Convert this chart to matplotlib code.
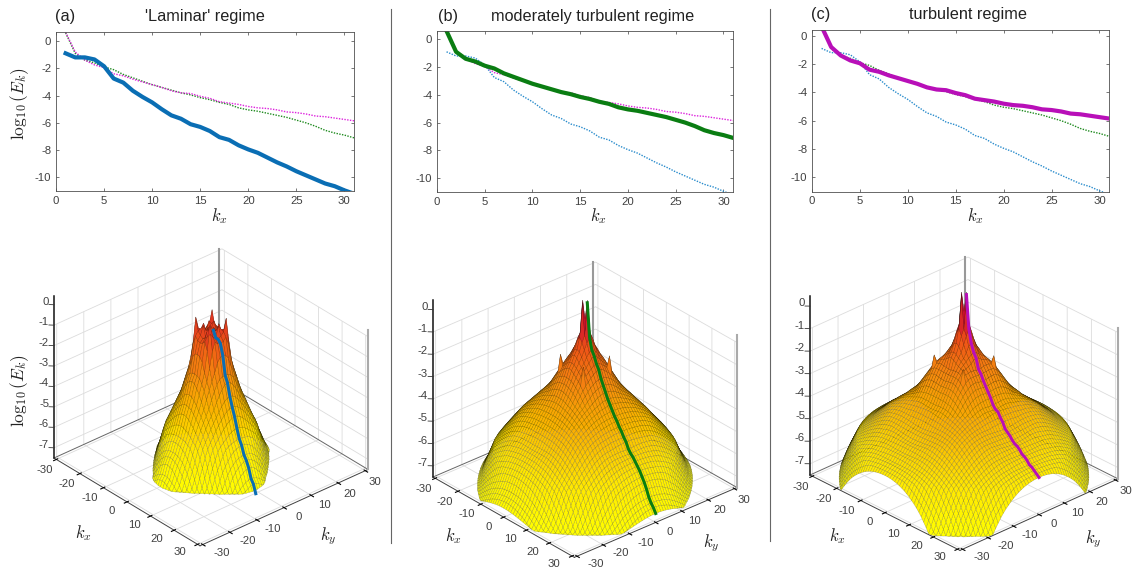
import matplotlib
matplotlib.use('Agg')
import matplotlib.pyplot as plt
import numpy as np
from matplotlib.colors import LinearSegmentedColormap
from matplotlib.lines import Line2D
from mpl_toolkits.mplot3d import proj3d
from mpl_toolkits.mplot3d.art3d import Poly3DCollection

W, H = 1135, 568
plt.rcParams['font.family'] = ['Liberation Sans', 'DejaVu Sans']
plt.rcParams['mathtext.fontset'] = 'cm'
plt.rcParams['axes.unicode_minus'] = False
TXT = '#404040'
DARK = '#222222'

# spectra, k = 1..31
k = list(range(1, 32))
laminar = [-0.9, -1.2, -1.2, -1.35, -1.85, -2.75, -3.05, -3.65, -4.1, -4.5, -5.0, -5.45, -5.7, -6.1, -6.3, -6.6,
           -7.05, -7.25, -7.65, -7.95, -8.2, -8.55, -8.9, -9.2, -9.55, -9.85, -10.15, -10.45, -10.65, -10.95, -11.2]
moderate = [0.6, -0.9, -1.4, -1.6, -1.9, -2.1, -2.45, -2.7, -2.95, -3.2, -3.4, -3.6, -3.8, -3.95, -4.15, -4.3,
            -4.5, -4.65, -4.9, -5.05, -5.15, -5.3, -5.45, -5.6, -5.8, -6.0, -6.25, -6.55, -6.75, -6.9, -7.1]
turbulent = [0.65, -0.8, -1.4, -1.75, -1.95, -2.4, -2.55, -2.8, -3.0, -3.2, -3.4, -3.65, -3.8, -3.85, -4.05, -4.2,
             -4.45, -4.55, -4.65, -4.8, -4.9, -4.95, -5.05, -5.2, -5.25, -5.35, -5.5, -5.55, -5.65, -5.75, -5.85]

diag_r_a = [0, 1.4, 3, 4.5, 5.9, 8.6, 13, 15.8, 17, 45]
diag_z_a = [-1.1, -1.0, -0.9, -0.9, -2.6, -4.1, -5.7, -7.4, -8, -14]
diag_r_b = [0, 1.4, 4, 7, 10.7, 19, 26.4, 30, 33, 45]
diag_z_b = [-0.6, -0.8, -1.8, -2.4, -3.3, -4.47, -5.94, -7.3, -8, -11]
diag_r_c = [0, 1.4, 4, 8.5, 14, 21.4, 30.7, 34, 36, 45]
diag_z_c = [-0.6, -0.8, -1.9, -2.5, -3.7, -4.44, -5.8, -6.9, -7.7, -10]

# small peaks on the surfaces, (|kx|, |ky|, height)
peaks_a = [(3, 3, -0.35), (1, 2, -0.7), (2, 1, -0.7)]
peaks_b = [(5, 5, -1.8)]
peaks_c = [(6, 6, -2.1)]

tick_vals = [-30, -20, -10, 0, 10, 20, 30]
z_ticks = [-7, -6, -5, -4, -3, -2, -1]

titles = ["'Laminar' regime", 'moderately turbulent regime', 'turbulent regime']
tags = ['(a)', '(b)', '(c)']
curves = [laminar, moderate, turbulent]
line_colors = ['#0a6eb4', '#0a7d12', '#b80fb8']
dot_colors = ['#2a8ccc', '#1e8a1e', '#dd22dd']

# colours by height, yellow at the floor to crimson at the top
surf_cmap = LinearSegmentedColormap.from_list('surf', [
    (0.0, '#ffff00'), (0.22, '#ffe800'), (0.42, '#fab400'), (0.62, '#f58410'),
    (0.78, '#ee5218'), (0.88, '#d82428'), (1.0, '#c00030')])


def surface(axis_z, diag_r, diag_z, peaks, r_axis, r_diag):
    n = np.arange(-31, 32)
    X, Y = np.meshgrid(n.astype(float), n.astype(float), indexing='ij')
    rr = np.linspace(0, 45, 901)
    ax_prof = np.interp(rr, [0] + k + [45], [axis_z[0] - 0.8] + axis_z + [axis_z[-1] - 3])
    di_prof = np.interp(rr, diag_r, diag_z)
    Z = np.zeros_like(X)
    inside = np.zeros_like(X, dtype=bool)
    for i in range(X.shape[0]):
        for j in range(X.shape[1]):
            r = np.hypot(X[i, j], Y[i, j])
            th = np.arctan2(Y[i, j], X[i, j])
            w = np.sin(2 * th) ** 2
            prof = (1 - w) * ax_prof + w * di_prof
            below = np.nonzero(prof <= -7.5)[0]
            r_floor = rr[below[0]] if len(below) else 45
            r_lim = min(r_floor, r_axis + (r_diag - r_axis) * w)
            inside[i, j] = r <= r_lim
            if r > r_lim:
                X[i, j] *= r_lim / r
                Y[i, j] *= r_lim / r
                r = r_lim
            Z[i, j] = np.interp(r, rr, prof)
    for px, py, pz in peaks:
        for sx in (-1, 1):
            for sy in (-1, 1):
                Z[31 + sx * px, 31 + sy * py] = pz
    return X, Y, Z, inside


def draw_surface(ax, X, Y, Z, inside, azim, elev):
    polys = []
    cols = []
    v = np.array([np.cos(np.radians(elev)) * np.cos(np.radians(azim)),
                  np.cos(np.radians(elev)) * np.sin(np.radians(azim)), np.sin(np.radians(elev))])
    for i in range(X.shape[0] - 1):
        for j in range(X.shape[1] - 1):
            idx = [(i, j), (i + 1, j), (i + 1, j + 1), (i, j + 1)]
            if not any(inside[p] for p in idx):
                continue
            q = np.array([[X[p], Y[p], Z[p]] for p in idx])
            polys.append(q)
            n = np.cross((q[2] - q[0]) * [1, 1, 7], (q[3] - q[1]) * [1, 1, 7])
            n = n / (np.linalg.norm(n) + 1e-9)
            light = 0.86 + 0.14 * min(1, abs(n @ v) * 1.6)
            c = np.array(surf_cmap((q[:, 2].mean() + 7.5) / 8.0)[:3]) * light
            cols.append(c)
    pc = Poly3DCollection(polys, facecolors=cols, edgecolors=(0, 0, 0, 0.28), linewidths=0.3, zorder=3)
    ax.add_collection3d(pc)


def corner_px(ax, x, y, z=-7.5):
    xp, yp, _ = proj3d.proj_transform(x, y, z, ax.get_proj())
    return ax.transData.transform((xp, yp))


def fit_box(ax, left_px, right_px):
    # rescale the axes so the floor corners land on the wanted pixels
    for _ in range(3):
        ax.apply_aspect()
        a = corner_px(ax, -31, -31)
        b = corner_px(ax, 31, 31)
        f = (right_px[0] - left_px[0]) / (b[0] - a[0])
        pos = ax.get_position()
        x0, y0, w0, h0 = pos.x0 * W, pos.y0 * H, pos.width * W, pos.height * H
        cx, cy = x0 + w0 / 2, y0 + h0 / 2
        dx, dy = (a[0] - cx) * f, (a[1] - cy) * f
        ncx = left_px[0] - dx
        ncy = (H - left_px[1]) - dy
        s = w0 * f
        ax.set_position([(ncx - s / 2) / W, (ncy - s / 2) / H, s / W, s / H])


def px_text(fig, x, y, s, **kw):
    # x, y in picture pixels from the top left
    fig.text(x / W, 1 - y / H, s, ha=kw.pop('ha', 'center'), va=kw.pop('va', 'center'), **kw)


fig = plt.figure(figsize=(W / 100, H / 100), dpi=100)

# top row
top_boxes = [(56, 354, 31.5, 191), (437, 733, 31, 192), (812, 1109, 30, 191.5)]
top_ylim = [(-11, 0.7), (-11, 0.6), (-11, 0.4)]
top_kx = [(219, 216), (598, 216), (975, 216)]
for i, (x0, x1, y0, y1) in enumerate(top_boxes):
    ax = fig.add_axes([x0 / W, 1 - y1 / H, (x1 - x0) / W, (y1 - y0) / H])
    for j, c in enumerate(curves):
        if j != i:
            ax.plot(k, c, ':', color=dot_colors[j], lw=1.0, dashes=(1, 1))
    ax.plot(k, curves[i], '-', color=line_colors[i], lw=3.0)
    ax.set_xlim(0, 31)
    ax.set_ylim(*top_ylim[i])
    ax.set_xticks(range(0, 31, 5))
    ax.set_yticks(range(-10, 1, 2))
    ax.tick_params(direction='in', length=2.5, width=0.5, labelsize=8.2, colors=TXT, pad=3.5, top=True, right=True)
    for s in ax.spines.values():
        s.set_linewidth(0.6)
        s.set_color('#505050')
    px_text(fig, top_kx[i][0], top_kx[i][1], r'$k_x$', fontsize=12, color=DARK)

tag_pos = [(65, 16), (448, 16), (821, 15)]
title_pos = [(205, 16), (593, 16), (968, 15)]
for i in range(3):
    px_text(fig, tag_pos[i][0], tag_pos[i][1], tags[i], fontsize=11.7, color=DARK)
    px_text(fig, title_pos[i][0], title_pos[i][1], titles[i], fontsize=11.7, color=DARK)
px_text(fig, 20, 104, r'$\log_{10}(E_k)$', fontsize=12.5, rotation=90, color=DARK)
px_text(fig, 20, 391, r'$\log_{10}(E_k)$', fontsize=12.5, rotation=90, color=DARK)

# bottom row
views = [(-41, 31.5), (-41, 29.6), (-43.5, 28.5)]
z_aspect = [43.4, 48.0, 47.4]
floor_left = [(54, 458), (433, 477), (810, 475)]
floor_right = [(368, 468), (737, 487), (1118, 478)]
edge_top = [-0.7, -0.67, -0.82]
surf_args = [(laminar, diag_r_a, diag_z_a, peaks_a, 31, 31), (moderate, diag_r_b, diag_z_b, peaks_b, 31, 33),
             (turbulent, diag_r_c, diag_z_c, peaks_c, 31, 38)]
kx_pos = [(83, 533), (453, 536), (837, 536)]
ky_pos = [(328, 536), (711, 543), (1093, 539)]

for i in range(3):
    ax = fig.add_axes([0.1, 0.1, 0.4, 0.8], projection='3d', proj_type='ortho')
    ax.computed_zorder = False
    ax.set_facecolor('none')
    ax.set_xlim(-31, 31)
    ax.set_ylim(-31, 31)
    ax.set_zlim(-7.5, -1)
    ax.set_box_aspect((62, 62, z_aspect[i]), zoom=1.0)
    ax.view_init(elev=views[i][1], azim=views[i][0])
    fit_box(ax, floor_left[i], floor_right[i])

    ax.set_xticks(tick_vals)
    ax.set_yticks(tick_vals)
    ax.set_zticks(z_ticks)
    ax.set_xticklabels([])
    ax.set_yticklabels([])
    ax.set_zticklabels([])
    ax.zaxis.line.set_color((0, 0, 0, 0))
    ax.zaxis._axinfo['tick'].update(inward_factor=0, outward_factor=0)
    for a in (ax.xaxis, ax.yaxis, ax.zaxis):
        a.set_pane_color((1, 1, 1, 0))
        a._axinfo['grid'].update(color='#dcdcdc', linewidth=0.6)
    for a in (ax.xaxis, ax.yaxis):
        a.line.set_color('#404040')
        a.line.set_linewidth(0.7)

    # box edges
    ax.plot([-31, -31], [-31, 31], [-7.5, -7.5], color='#666666', lw=0.7, zorder=1)
    ax.plot([-31, 31], [31, 31], [-7.5, -7.5], color='#666666', lw=0.7, zorder=1)
    ax.plot([-31.6, -31.6], [30.4, 30.4], [-7.5, -1], color='#999999', lw=1.5, zorder=1)
    ax.plot([31, 31], [31, 31], [-7.5, edge_top[i]], color='#aaaaaa', lw=1.5, zorder=1)
    ax.plot([-31, -31], [-31, -31], [-7.5, 0.45], color='#111111', lw=1.1, zorder=1)

    # tick labels placed by hand so they sit where the reference has them
    for z in z_ticks + [0]:
        p = corner_px(ax, -31, -31, z)
        px_text(fig, p[0] - 5, H - p[1] - 3, str(z), fontsize=8.2, color=TXT, ha='right')
        ax.plot([-31, -32], [-31, -32], [z, z], color='#333333', lw=0.6, zorder=1)
    for t in tick_vals:
        f = (t + 30) / 60
        p = corner_px(ax, t, -31)
        px_text(fig, p[0] - 12 - 6 * f, H - p[1] + 11 - 3 * f, str(t), fontsize=8.2, color=TXT)
        p = corner_px(ax, 31, t)
        px_text(fig, p[0] + 19 - 9 * f, H - p[1] + 8 + 3 * f, str(t), fontsize=8.2, color=TXT)

    X, Y, Z, inside = surface(*surf_args[i])
    draw_surface(ax, X, Y, Z, inside, views[i][0], views[i][1])

    c = np.array(curves[i], dtype=float)
    keep = c >= -7.7
    kk = np.array(k, dtype=float)
    ax.plot(kk[keep], 0 * kk[keep], c[keep], color=line_colors[i], lw=2.2, zorder=5)

    px_text(fig, kx_pos[i][0], kx_pos[i][1], r'$k_x$', fontsize=12, color=DARK)
    px_text(fig, ky_pos[i][0], ky_pos[i][1], r'$k_y$', fontsize=12, color=DARK)

# panel separators
for x, y1 in [(391, 543), (769.5, 541)]:
    fig.add_artist(Line2D([x / W, x / W], [1 - 9 / H, 1 - y1 / H], color='#666666', lw=0.8))

fig.savefig('out.png', dpi=100)
